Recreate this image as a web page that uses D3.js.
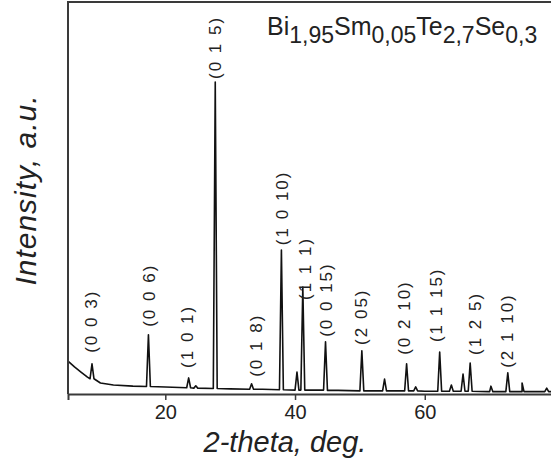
<!DOCTYPE html>
<html>
<head>
<meta charset="utf-8">
<script src="https://cdn.jsdelivr.net/npm/d3@7"></script>
<style>
  body { margin: 0; background: #fff; }
  svg { display: block; font-family: "Liberation Sans", Arial, sans-serif; }
</style>
</head>
<body>
<div id="chart"></div>
<script>
const width = 551, height = 474;

// background of the pattern, [2-theta, intensity a.u.]
const bgTheta = [5, 6, 7, 8, 10, 12, 15, 20, 25, 30, 35, 40, 45, 50, 55, 60, 65, 70, 75, 80];
const bgValue = [8.4, 6.9, 5.6, 4.3, 2.8, 2.3, 2.0, 1.8, 1.5, 1.3, 1.2, 1.0, 0.9, 0.8, 0.8, 0.7, 0.7, 0.6, 0.6, 0.6];

// reflections: position, top, base level under the peak
const peakTheta = [8.7, 17.4, 23.6, 24.7, 27.7, 33.3, 37.9, 40.3, 41.2, 44.7, 50.3, 53.8, 57.2, 58.6, 62.3, 64.1, 65.9, 67.0, 70.2, 72.8, 75.0, 78.8];
const peakTop   = [7.7, 15.1, 4.1, 2.1, 79.6, 2.6, 36.7, 5.6, 27.3, 13.3, 11.0, 3.8, 7.7, 1.8, 10.7, 2.3, 5.1, 7.9, 2.0, 5.4, 2.8, 1.5];
const peakBase  = [3.9, 1.9, 1.6, 1.5, 1.4, 1.2, 1.1, 1.0, 1.0, 1.0, 0.8, 0.8, 0.8, 0.8, 0.7, 0.7, 0.7, 0.7, 0.6, 0.6, 0.6, 0.6];

// Miller indices, with the reflection they belong to
const hklText = ["(0 0 3)", "(0 0 6)", "(1 0 1)", "(0 1 5)", "(0 1 8)", "(1 0 10)", "(1 1 1)", "(0 0 15)", "(2 05)", "(0 2 10)", "(1 1 15)", "(1 2 5)", "(2 1 10)"];
const hklPeak = [0, 1, 2, 4, 5, 6, 8, 9, 10, 12, 14, 17, 19];

const xTicks = [20, 40, 60];

// label placement (px): shift across and gap above peak top
const hklDx  = [-1, 1, -1, 0, 5, 1, 3, 1, 0, -2, -3, 5, 0];
const hklGap = [11, 8, 10, 3, 7, 5, -13, 5, 6, 9, 10, 8, 5];

const margin = { left: 68, top: 2, bottom: 394 };

const x = d3.scaleLinear().domain([5, 80]).range([margin.left, 554.5]);
const y = d3.scaleLinear().domain([0, 100]).range([margin.bottom, margin.bottom - 392]);

// merge background and peaks into one profile
const pts = bgTheta.map((t, i) => [t, bgValue[i]]);
peakTheta.forEach((t, i) => {
    pts.push([t - 0.3, peakBase[i]], [t, peakTop[i]], [t + 0.3, peakBase[i]]);
});
pts.sort((a, b) => a[0] - b[0]);

const svg = d3.select("#chart").append("svg")
    .attr("width", width)
    .attr("height", height);

svg.append("rect").attr("width", width).attr("height", height).attr("fill", "#fff");

const g = svg.append("g");

// pattern
g.append("path")
    .datum(pts)
    .attr("fill", "none")
    .attr("stroke", "#111")
    .attr("stroke-width", 1.6)
    .attr("stroke-linejoin", "round")
    .attr("d", d3.line().x(d => x(d[0])).y(d => y(d[1])));

// frame: top and left
g.append("path")
    .attr("d", `M${margin.left},${margin.bottom}V${margin.top}H${width}`)
    .attr("fill", "none")
    .attr("stroke", "#3a3a3a")
    .attr("stroke-width", 2);

// x axis
const xAxis = g.append("g")
    .attr("transform", `translate(0,${margin.bottom})`)
    .call(d3.axisBottom(x).tickValues(xTicks).tickSize(6).tickPadding(5).tickFormat(d3.format("d")));
xAxis.select(".domain").attr("stroke", "#3a3a3a").attr("stroke-width", 2);
xAxis.selectAll(".tick line").attr("stroke", "#3a3a3a").attr("stroke-width", 1.5);
xAxis.selectAll(".tick text")
    .attr("font-size", 20)
    .attr("font-family", "Liberation Sans, Arial, sans-serif")
    .attr("fill", "#222");

// hkl labels
g.selectAll(".hkl")
    .data(hklText)
    .join("text")
    .attr("class", "hkl")
    .attr("transform", (d, i) => {
        const p = hklPeak[i];
        return `translate(${x(peakTheta[p]) + hklDx[i]},${y(peakTop[p]) - hklGap[i]}) rotate(-90)`;
    })
    .attr("dominant-baseline", "central")
    .attr("font-size", 17)
    .attr("letter-spacing", 2)
    .attr("fill", "#222")
    .text(d => d);

// axis titles
svg.append("text")
    .attr("x", 285)
    .attr("y", 452)
    .attr("text-anchor", "middle")
    .attr("font-size", 29)
    .attr("font-style", "italic")
    .attr("fill", "#222")
    .text("2-theta, deg.");

svg.append("text")
    .attr("transform", "translate(36,190) rotate(-90)")
    .attr("text-anchor", "middle")
    .attr("font-size", 30)
    .attr("letter-spacing", 1)
    .attr("font-style", "italic")
    .attr("fill", "#222")
    .text("Intensity, a.u.");

// composition
const formula = [["Bi", "1,95"], ["Sm", "0,05"], ["Te", "2,7"], ["Se", "0,3"]];
const title = svg.append("text")
    .attr("x", 267)
    .attr("y", 35)
    .attr("fill", "#222");
formula.forEach(([el, sub], i) => {
    title.append("tspan").attr("font-size", 25).attr("dy", i === 0 ? 0 : -8).text(el);
    title.append("tspan").attr("font-size", 23).attr("dy", 8).text(sub);
});
</script>
</body>
</html>
